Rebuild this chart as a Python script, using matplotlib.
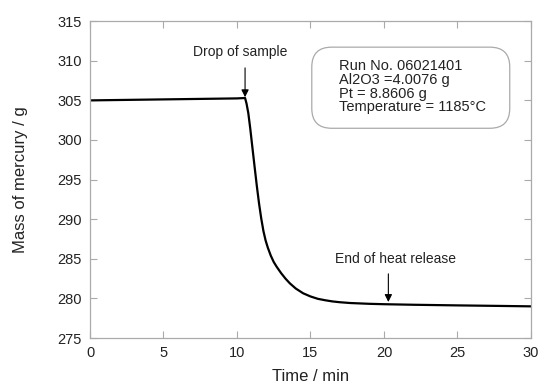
import matplotlib.pyplot as plt
from matplotlib.patches import FancyBboxPatch

# mass of mercury
time_min = [0, 2, 4, 6, 8, 10, 10.55, 10.65, 10.77, 10.9, 11.04, 11.2, 11.35, 11.5,
            11.65, 11.8, 11.95, 12.1, 12.3, 12.5, 12.7, 13.0, 13.3, 13.6, 14.0,
            14.5, 15.0, 15.5, 16.0, 16.5, 17.0, 17.7, 19.0, 20.0, 22.0, 25.0, 28.0, 30.0]
mass_g = [305.0, 305.05, 305.1, 305.15, 305.2, 305.25, 305.3, 304.6, 303.4, 301.5,
          299.2, 296.6, 294.2, 292.0, 290.1, 288.5, 287.3, 286.4, 285.4, 284.6,
          284.0, 283.2, 282.5, 281.9, 281.25, 280.65, 280.25, 279.95, 279.77,
          279.62, 279.52, 279.42, 279.32, 279.27, 279.2, 279.12, 279.05, 279.0]

x_ticks = [0, 5, 10, 15, 20, 25, 30]
y_ticks = [275, 280, 285, 290, 295, 300, 305, 310, 315]

info = "Run No. 06021401\nAl2O3 =4.0076 g\nPt = 8.8606 g\nTemperature = 1185°C"

plt.rcParams['font.family'] = ['Liberation Sans', 'DejaVu Sans']

fig = plt.figure(figsize=(5.39, 3.85), dpi=100)
ax = fig.add_axes([0.167, 0.122, 0.818, 0.823])

ax.plot(time_min, mass_g, color='black', lw=1.6)

ax.set_xlim(0, 30)
ax.set_ylim(275, 315)
ax.set_xticks(x_ticks)
ax.set_yticks(y_ticks)
ax.tick_params(direction='in', length=5, width=0.8, color='#aaaaaa',
               labelsize=10.5, labelcolor='#222222', top=True, right=True, pad=6)
for sp in ax.spines.values():
    sp.set_color('#aaaaaa')
    sp.set_linewidth(0.9)

ax.set_xlabel('Time / min', fontsize=12, color='#222222', labelpad=6)
ax.set_ylabel('Mass of mercury / g', fontsize=12, color='#222222', labelpad=21)

arrow = dict(arrowstyle='-|>', color='black', lw=0.8, mutation_scale=11, shrinkA=0, shrinkB=0)
ax.text(10.2, 311.1, 'Drop of sample', ha='center', va='center', fontsize=10, color='#222222')
ax.annotate('', xy=(10.55, 305.4), xytext=(10.55, 309.1), arrowprops=arrow)
ax.text(20.8, 285.0, 'End of heat release', ha='center', va='center', fontsize=10, color='#222222')
ax.annotate('', xy=(20.3, 279.55), xytext=(20.3, 283.1), arrowprops=arrow)

# info box
box = FancyBboxPatch((0.503, 0.662), 0.449, 0.256, transform=ax.transAxes,
                     boxstyle='round,pad=0,rounding_size=0.045', mutation_aspect=441 / 317,
                     fc='white', ec='#aaaaaa', lw=0.9)
ax.add_patch(box)
ax.text(0.565, 0.793, info, transform=ax.transAxes, ha='left', va='center',
        fontsize=10.5, color='#222222', linespacing=0.98)

fig.savefig('out.png', dpi=100)
